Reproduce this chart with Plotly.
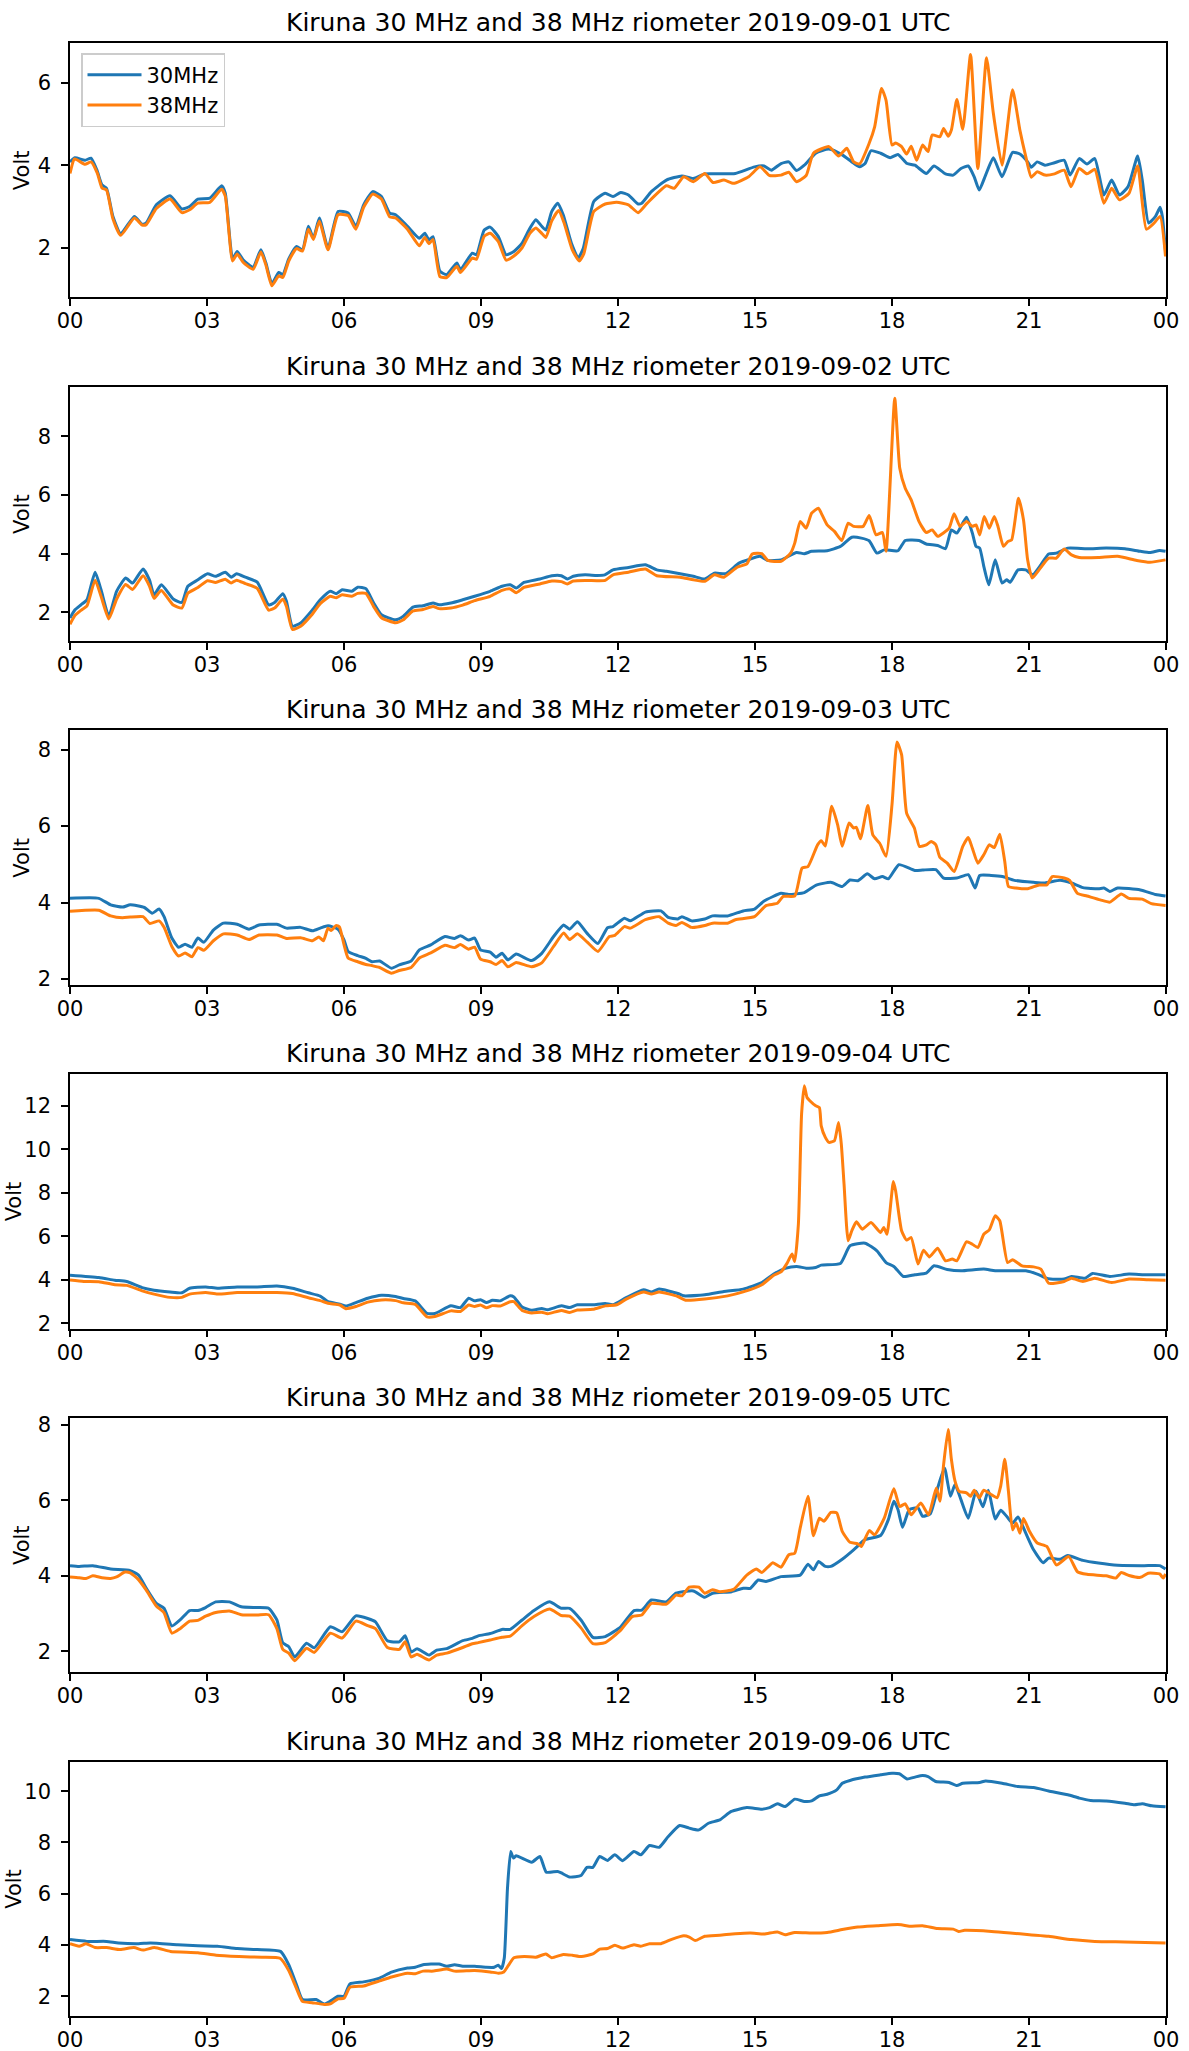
import plotly.graph_objects as go

# ---------------- data (hours UTC, Volt) ----------------
DATES = ["2019-09-01", "2019-09-02", "2019-09-03", "2019-09-04", "2019-09-05", "2019-09-06"]
HOUR_TICKS = [0, 3, 6, 9, 12, 15, 18, 21, 24]
HOUR_LABELS = ["00", "03", "06", "09", "12", "15", "18", "21", "00"]
SERIES_NAMES = ["30MHz", "38MHz"]
Y_LABEL = "Volt"

D1_30 = [(0,4.08),(0.11,4.18),(0.33,4.12),(0.46,4.17),(0.59,3.88),(0.7,3.52),(0.8,3.44),(0.94,2.76),(1.11,2.34),(1.41,2.76),(1.58,2.57),(1.67,2.6),(1.89,3.04),(2.19,3.26),(2.45,2.94),(2.62,3.0),(2.8,3.18),(3.06,3.2),(3.32,3.5),(3.4,3.32),(3.56,1.73),(3.66,1.91),(3.79,1.71),(4.01,1.53),(4.18,1.95),(4.29,1.63),(4.42,1.13),(4.57,1.4),(4.66,1.35),(4.79,1.73),(4.96,2.03),(5.09,1.95),(5.22,2.52),(5.33,2.23),(5.46,2.72),(5.65,1.99),(5.87,2.88),(6.09,2.84),(6.26,2.52),(6.43,3.04),(6.63,3.36),(6.82,3.24),(7.0,2.84),(7.13,2.8),(7.39,2.52),(7.65,2.23),(7.77,2.35),(7.86,2.19),(7.95,2.27),(8.1,1.43),(8.25,1.35),(8.47,1.63),(8.55,1.47),(8.81,1.87),(8.9,1.83),(9.07,2.43),(9.2,2.5),(9.38,2.27),(9.55,1.83),(9.72,1.91),(9.9,2.11),(10.07,2.47),(10.2,2.68),(10.33,2.52),(10.42,2.43),(10.55,2.88),(10.68,3.08),(10.8,2.8),(10.98,2.11),(11.13,1.75),(11.24,1.99),(11.47,3.12),(11.72,3.32),(11.89,3.24),(12.06,3.34),(12.23,3.28),(12.44,3.06),(12.52,3.08),(12.73,3.36),(13.06,3.64),(13.4,3.74),(13.65,3.68),(13.9,3.79),(14.23,3.79),(14.57,3.8),(14.99,3.96),(15.2,3.98),(15.36,3.88),(15.57,4.04),(15.74,4.08),(15.91,3.87),(16.08,4.0),(16.33,4.29),(16.62,4.39),(16.91,4.25),(17.12,4.08),(17.29,3.96),(17.41,4.04),(17.54,4.35),(17.75,4.29),(17.96,4.18),(18.13,4.26),(18.33,4.04),(18.5,4.0),(18.75,3.8),(18.92,3.98),(19.17,3.79),(19.34,3.76),(19.51,3.92),(19.67,3.98),(19.8,3.72),(19.91,3.4),(20.05,3.76),(20.22,4.18),(20.41,3.72),(20.64,4.31),(20.8,4.27),(20.97,4.08),(21.05,3.95),(21.18,4.08),(21.35,4.0),(21.56,4.06),(21.77,4.12),(21.9,3.76),(22.1,4.16),(22.27,4.03),(22.44,4.16),(22.64,3.28),(22.81,3.64),(22.98,3.28),(23.17,3.48),(23.38,4.22),(23.48,3.64),(23.62,2.6),(23.77,2.76),(23.87,2.98),(23.92,2.76),(23.99,1.91)]
D1_38 = [(0,3.8),(0.1,4.15),(0.33,4.02),(0.46,4.08),(0.6,3.8),(0.7,3.45),(0.8,3.4),(0.94,2.7),(1.11,2.3),(1.41,2.72),(1.58,2.55),(1.67,2.56),(1.89,2.95),(2.19,3.18),(2.45,2.85),(2.62,2.92),(2.8,3.08),(3.06,3.1),(3.32,3.42),(3.4,3.25),(3.56,1.68),(3.66,1.85),(3.79,1.65),(4.01,1.48),(4.18,1.9),(4.29,1.58),(4.42,1.08),(4.57,1.32),(4.66,1.28),(4.79,1.68),(4.96,1.98),(5.09,1.92),(5.22,2.45),(5.33,2.2),(5.46,2.65),(5.65,1.95),(5.87,2.8),(6.09,2.78),(6.26,2.45),(6.43,2.98),(6.63,3.3),(6.82,3.18),(7.0,2.75),(7.13,2.72),(7.39,2.45),(7.65,2.05),(7.77,2.25),(7.86,2.1),(7.95,2.2),(8.1,1.3),(8.25,1.28),(8.47,1.55),(8.55,1.4),(8.81,1.75),(8.9,1.72),(9.07,2.28),(9.2,2.35),(9.38,2.15),(9.55,1.7),(9.72,1.8),(9.9,2.0),(10.07,2.35),(10.2,2.48),(10.33,2.35),(10.42,2.25),(10.55,2.65),(10.7,2.9),(10.82,2.6),(11.0,1.95),(11.15,1.68),(11.25,1.85),(11.47,2.88),(11.72,3.06),(11.97,3.1),(12.23,3.04),(12.44,2.85),(12.64,3.08),(13.06,3.5),(13.23,3.44),(13.44,3.72),(13.65,3.6),(13.9,3.8),(14.08,3.58),(14.32,3.64),(14.53,3.56),(14.86,3.72),(15.11,3.96),(15.32,3.75),(15.57,3.76),(15.74,3.83),(15.91,3.6),(16.12,3.75),(16.28,4.29),(16.62,4.45),(16.83,4.22),(17.01,4.41),(17.16,4.08),(17.29,4.03),(17.5,4.53),(17.62,4.93),(17.77,5.86),(17.87,5.57),(18.0,4.49),(18.08,4.54),(18.21,4.45),(18.32,4.27),(18.42,4.46),(18.54,4.12),(18.67,4.49),(18.79,4.33),(18.88,4.73),(19.05,4.69),(19.13,4.89),(19.23,4.7),(19.3,4.85),(19.42,5.59),(19.55,4.87),(19.72,6.68),(19.88,3.92),(20.07,6.6),(20.22,5.25),(20.41,4.0),(20.64,5.83),(20.8,4.85),(20.93,4.21),(21.05,3.71),(21.18,3.84),(21.35,3.76),(21.56,3.79),(21.77,3.88),(21.92,3.48),(22.1,3.92),(22.27,3.79),(22.44,3.9),(22.64,3.08),(22.81,3.44),(22.98,3.16),(23.19,3.32),(23.38,3.98),(23.57,2.45),(23.74,2.6),(23.87,2.76),(23.99,1.79)]

D2_30 = [(0,1.81),(0.11,2.09),(0.24,2.26),(0.37,2.43),(0.55,3.37),(0.68,2.77),(0.85,1.87),(1.02,2.72),(1.22,3.17),(1.37,3.0),(1.6,3.48),(1.74,3.11),(1.84,2.6),(2.0,2.94),(2.26,2.46),(2.45,2.34),(2.58,2.89),(2.8,3.11),(3.01,3.32),(3.19,3.23),(3.4,3.37),(3.53,3.2),(3.65,3.32),(3.84,3.2),(4.1,3.03),(4.35,2.26),(4.48,2.34),(4.66,2.64),(4.74,2.38),(4.87,1.53),(5.05,1.64),(5.31,2.09),(5.48,2.43),(5.7,2.72),(5.83,2.64),(5.96,2.77),(6.17,2.72),(6.3,2.86),(6.48,2.81),(6.65,2.32),(6.82,1.92),(7.13,1.75),(7.3,1.87),(7.51,2.18),(7.73,2.23),(7.95,2.32),(8.08,2.26),(8.34,2.32),(8.6,2.43),(8.86,2.55),(9.2,2.72),(9.46,2.89),(9.64,2.94),(9.77,2.83),(9.94,3.02),(10.29,3.14),(10.55,3.25),(10.76,3.25),(10.89,3.14),(11.02,3.23),(11.28,3.28),(11.54,3.26),(11.71,3.28),(11.89,3.45),(12.23,3.53),(12.6,3.62),(12.85,3.45),(13.06,3.4),(13.36,3.32),(13.65,3.23),(13.9,3.14),(14.11,3.34),(14.36,3.32),(14.65,3.68),(14.9,3.82),(15.11,3.91),(15.28,3.77),(15.57,3.79),(15.91,4.04),(16.08,4.0),(16.24,4.08),(16.58,4.1),(16.87,4.25),(17.12,4.56),(17.33,4.53),(17.5,4.44),(17.67,4.02),(17.83,4.13),(18.13,4.1),(18.29,4.45),(18.59,4.45),(18.75,4.33),(19.0,4.28),(19.17,4.17),(19.3,4.81),(19.42,4.7),(19.63,5.24),(19.76,4.7),(19.84,4.25),(19.92,4.19),(20.01,3.57),(20.12,2.94),(20.26,3.79),(20.41,3.0),(20.51,3.11),(20.59,3.03),(20.76,3.45),(20.93,3.45),(21.08,3.28),(21.26,3.62),(21.43,3.99),(21.6,4.02),(21.85,4.19),(22.27,4.17),(22.69,4.19),(23.1,4.17),(23.44,4.08),(23.65,4.04),(23.86,4.11),(23.99,4.08)]
D2_38 = [(0,1.6),(0.11,1.9),(0.24,2.07),(0.37,2.22),(0.55,3.1),(0.68,2.55),(0.85,1.78),(1.02,2.45),(1.22,2.95),(1.37,2.78),(1.6,3.25),(1.74,2.9),(1.84,2.48),(2.0,2.75),(2.26,2.25),(2.45,2.15),(2.58,2.65),(2.8,2.85),(3.01,3.08),(3.19,3.02),(3.4,3.13),(3.53,3.0),(3.65,3.1),(3.84,2.98),(4.1,2.82),(4.35,2.08),(4.48,2.15),(4.66,2.45),(4.74,2.2),(4.87,1.42),(5.05,1.53),(5.31,1.95),(5.48,2.3),(5.7,2.55),(5.83,2.5),(5.96,2.6),(6.17,2.55),(6.3,2.65),(6.48,2.65),(6.65,2.2),(6.82,1.82),(7.13,1.65),(7.3,1.75),(7.51,2.05),(7.73,2.1),(7.95,2.2),(8.08,2.13),(8.34,2.15),(8.6,2.25),(8.86,2.4),(9.2,2.55),(9.46,2.75),(9.64,2.8),(9.77,2.67),(9.94,2.85),(10.29,2.97),(10.55,3.07),(10.76,3.05),(10.89,2.97),(11.02,3.07),(11.28,3.09),(11.54,3.08),(11.72,3.09),(11.89,3.28),(12.23,3.37),(12.6,3.48),(12.85,3.25),(13.36,3.2),(13.65,3.11),(13.9,3.06),(14.11,3.28),(14.32,3.2),(14.61,3.54),(14.82,3.65),(14.94,3.99),(15.15,4.0),(15.28,3.77),(15.57,3.74),(15.78,4.02),(15.87,4.36),(15.99,5.1),(16.12,4.87),(16.24,5.38),(16.39,5.55),(16.45,5.38),(16.58,4.98),(16.74,4.76),(16.9,4.45),(17.04,5.04),(17.16,4.93),(17.37,4.93),(17.5,5.3),(17.65,4.64),(17.79,4.72),(17.87,4.08),(18.06,9.29),(18.17,6.91),(18.29,6.23),(18.42,5.83),(18.59,5.1),(18.75,4.72),(18.88,4.81),(19.0,4.59),(19.25,4.87),(19.36,5.36),(19.49,4.93),(19.63,5.1),(19.76,4.93),(19.84,4.98),(19.92,4.64),(20.02,5.27),(20.13,4.87),(20.24,5.27),(20.32,4.93),(20.44,4.25),(20.54,4.42),(20.62,4.47),(20.77,5.89),(20.88,5.15),(20.97,3.79),(21.07,3.17),(21.22,3.45),(21.43,3.85),(21.6,3.85),(21.77,4.16),(21.93,3.96),(22.1,3.87),(22.52,3.87),(22.94,3.91),(23.36,3.77),(23.65,3.71),(23.99,3.79)]

D3_30 = [(0,4.11),(0.63,4.11),(0.89,3.94),(1.15,3.88),(1.32,3.94),(1.63,3.87),(1.8,3.72),(1.95,3.83),(2.06,3.63),(2.23,3.07),(2.38,2.83),(2.52,2.91),(2.67,2.83),(2.8,3.07),(2.93,2.96),(3.14,3.28),(3.36,3.46),(3.66,3.43),(3.92,3.3),(4.14,3.41),(4.53,3.43),(4.74,3.33),(5.05,3.35),(5.31,3.26),(5.48,3.33),(5.65,3.39),(5.87,3.3),(6.0,3.02),(6.09,2.72),(6.3,2.61),(6.48,2.54),(6.61,2.45),(6.78,2.47),(7.04,2.28),(7.21,2.37),(7.47,2.47),(7.65,2.76),(7.9,2.89),(8.21,3.11),(8.42,3.06),(8.55,3.13),(8.73,3.02),(8.86,3.07),(8.99,2.76),(9.2,2.7),(9.33,2.57),(9.46,2.67),(9.59,2.5),(9.77,2.65),(10.11,2.48),(10.33,2.67),(10.59,3.11),(10.81,3.41),(10.94,3.3),(11.11,3.5),(11.32,3.2),(11.56,2.93),(11.77,3.34),(11.89,3.37),(12.14,3.59),(12.27,3.52),(12.6,3.75),(12.94,3.78),(13.1,3.61),(13.31,3.57),(13.4,3.63),(13.61,3.52),(13.9,3.57),(14.07,3.65),(14.4,3.65),(14.74,3.78),(14.99,3.83),(15.2,4.04),(15.57,4.24),(15.74,4.21),(16.08,4.26),(16.33,4.45),(16.66,4.53),(16.91,4.42),(17.08,4.59),(17.25,4.57),(17.46,4.75),(17.62,4.62),(17.79,4.68),(17.92,4.62),(18.15,4.99),(18.5,4.84),(18.67,4.85),(18.96,4.86),(19.13,4.64),(19.42,4.64),(19.67,4.73),(19.82,4.38),(19.92,4.71),(20.17,4.71),(20.42,4.68),(20.68,4.58),(21.1,4.53),(21.35,4.51),(21.68,4.58),(21.93,4.51),(22.18,4.39),(22.52,4.36),(22.64,4.38),(22.77,4.29),(22.94,4.38),(23.44,4.33),(23.77,4.21),(23.99,4.17)]
D3_38 = [(0,3.77),(0.63,3.8),(0.89,3.65),(1.15,3.6),(1.32,3.62),(1.6,3.63),(1.75,3.45),(1.95,3.52),(2.06,3.35),(2.23,2.85),(2.38,2.6),(2.52,2.68),(2.67,2.58),(2.8,2.82),(2.93,2.75),(3.14,3.0),(3.36,3.18),(3.66,3.15),(3.92,3.03),(4.14,3.15),(4.53,3.15),(4.74,3.06),(5.05,3.08),(5.31,3.0),(5.45,3.1),(5.55,3.0),(5.65,3.33),(5.72,3.27),(5.83,3.4),(5.9,3.36),(6.0,2.9),(6.09,2.55),(6.3,2.45),(6.48,2.38),(6.61,2.35),(6.78,2.3),(7.04,2.15),(7.21,2.22),(7.47,2.3),(7.65,2.55),(7.9,2.68),(8.21,2.88),(8.42,2.82),(8.55,2.9),(8.73,2.78),(8.86,2.83),(8.99,2.52),(9.2,2.45),(9.33,2.38),(9.46,2.48),(9.59,2.32),(9.77,2.43),(10.11,2.32),(10.33,2.42),(10.59,2.85),(10.81,3.2),(10.94,3.03),(11.11,3.18),(11.32,2.97),(11.56,2.72),(11.81,3.11),(11.93,3.14),(12.14,3.37),(12.27,3.33),(12.6,3.55),(12.9,3.63),(13.1,3.46),(13.27,3.4),(13.4,3.48),(13.61,3.35),(13.9,3.4),(14.07,3.46),(14.4,3.46),(14.57,3.55),(14.99,3.63),(15.24,3.92),(15.49,3.98),(15.62,4.16),(15.87,4.17),(16.03,4.9),(16.16,4.94),(16.37,5.51),(16.45,5.62),(16.54,5.48),(16.68,6.52),(16.81,6.03),(16.91,5.47),(17.06,6.08),(17.16,5.95),(17.22,5.97),(17.31,5.67),(17.47,6.54),(17.58,5.77),(17.73,5.55),(17.87,5.21),(18.0,6.56),(18.11,8.2),(18.21,7.87),(18.32,6.34),(18.49,5.95),(18.6,5.47),(18.75,5.51),(18.86,5.6),(18.96,5.51),(19.05,5.18),(19.21,5.03),(19.36,4.81),(19.55,5.47),(19.67,5.7),(19.76,5.42),(19.88,5.03),(20.01,5.25),(20.13,5.51),(20.24,5.44),(20.36,5.79),(20.47,5.07),(20.55,4.42),(20.72,4.38),(20.97,4.36),(21.22,4.46),(21.39,4.46),(21.51,4.68),(21.77,4.64),(21.89,4.58),(22.06,4.24),(22.27,4.17),(22.56,4.07),(22.77,4.01),(23.02,4.22),(23.19,4.11),(23.48,4.09),(23.68,3.97),(23.99,3.92)]

D4_30 = [(0,4.22),(0.63,4.11),(0.98,3.99),(1.24,3.93),(1.58,3.65),(1.84,3.53),(2.19,3.45),(2.45,3.41),(2.62,3.62),(2.97,3.68),(3.23,3.62),(3.66,3.68),(4.1,3.68),(4.53,3.72),(4.87,3.62),(5.22,3.41),(5.48,3.26),(5.65,3.0),(5.91,2.89),(6.04,2.8),(6.26,2.96),(6.52,3.16),(6.82,3.3),(7.13,3.24),(7.3,3.15),(7.56,3.04),(7.82,2.46),(7.99,2.46),(8.34,2.81),(8.55,2.73),(8.73,3.16),(8.86,3.04),(8.99,3.09),(9.12,2.96),(9.25,3.07),(9.42,3.04),(9.64,3.27),(9.72,3.22),(9.9,2.76),(10.11,2.61),(10.33,2.69),(10.46,2.63),(10.76,2.81),(10.94,2.73),(11.11,2.86),(11.45,2.86),(11.72,2.92),(11.89,2.86),(12.18,3.19),(12.56,3.55),(12.73,3.45),(12.9,3.58),(13.31,3.38),(13.44,3.27),(13.9,3.32),(14.32,3.47),(14.74,3.58),(15.15,3.88),(15.41,4.27),(15.66,4.53),(15.91,4.62),(16.12,4.54),(16.33,4.57),(16.45,4.68),(16.87,4.76),(17.08,5.57),(17.41,5.69),(17.67,5.34),(17.87,4.8),(18.04,4.62),(18.25,4.16),(18.5,4.24),(18.75,4.31),(18.92,4.65),(19.21,4.48),(19.51,4.42),(20.01,4.5),(20.26,4.42),(20.93,4.42),(21.18,4.27),(21.35,4.11),(21.47,4.04),(21.77,4.04),(21.93,4.16),(22.23,4.08),(22.39,4.3),(22.77,4.16),(23.19,4.27),(23.52,4.24),(23.99,4.24)]
D4_38 = [(0,4.0),(0.3,3.93),(0.63,3.92),(0.98,3.78),(1.24,3.75),(1.58,3.5),(1.84,3.35),(2.19,3.2),(2.45,3.2),(2.62,3.35),(2.97,3.42),(3.23,3.35),(3.66,3.42),(4.1,3.42),(4.53,3.42),(4.87,3.38),(5.22,3.18),(5.48,3.05),(5.65,2.93),(5.91,2.85),(6.04,2.68),(6.26,2.78),(6.52,2.98),(6.82,3.08),(7.13,3.05),(7.3,2.95),(7.56,2.88),(7.82,2.3),(7.99,2.32),(8.34,2.58),(8.55,2.55),(8.73,2.85),(8.86,2.78),(8.99,2.85),(9.12,2.72),(9.25,2.82),(9.42,2.8),(9.64,3.0),(9.72,3.0),(9.9,2.6),(10.11,2.48),(10.33,2.52),(10.46,2.45),(10.76,2.6),(10.94,2.5),(11.11,2.62),(11.45,2.65),(11.72,2.81),(11.97,2.86),(12.18,3.12),(12.56,3.45),(12.73,3.35),(12.9,3.45),(13.31,3.24),(13.48,3.07),(13.9,3.12),(14.4,3.27),(14.74,3.45),(15.15,3.78),(15.41,4.22),(15.57,4.37),(15.7,4.76),(15.81,5.19),(15.87,4.85),(15.95,6.56),(16.02,11.62),(16.08,12.92),(16.14,12.38),(16.2,12.23),(16.33,12.0),(16.41,11.92),(16.45,11.08),(16.54,10.55),(16.62,10.32),(16.74,10.4),(16.83,11.23),(16.89,10.24),(16.95,8.4),(17.04,5.8),(17.12,6.26),(17.22,6.67),(17.35,6.33),(17.54,6.64),(17.75,6.18),(17.82,6.41),(17.89,6.1),(18.03,8.52),(18.08,8.09),(18.21,6.26),(18.32,5.83),(18.42,5.95),(18.57,4.73),(18.69,5.37),(18.82,5.06),(19.0,5.46),(19.17,4.88),(19.32,4.96),(19.42,4.88),(19.63,5.75),(19.76,5.64),(19.88,5.49),(20.01,6.1),(20.13,6.3),(20.26,6.95),(20.36,6.72),(20.53,4.8),(20.64,4.93),(20.85,4.65),(21.1,4.6),(21.26,4.5),(21.43,3.85),(21.77,3.93),(21.93,4.08),(22.18,3.93),(22.44,4.08),(22.81,3.88),(23.19,4.04),(23.61,4.01),(23.99,3.99)]

D5_30 = [(0,4.27),(0.2,4.25),(0.5,4.27),(0.89,4.18),(1.32,4.14),(1.5,4.02),(1.67,3.67),(1.89,3.27),(2.06,3.14),(2.23,2.67),(2.41,2.83),(2.62,3.08),(2.8,3.08),(2.97,3.16),(3.19,3.31),(3.49,3.31),(3.75,3.18),(4.1,3.16),(4.35,3.14),(4.53,2.83),(4.66,2.22),(4.79,2.12),(4.92,1.85),(5.18,2.21),(5.35,2.09),(5.7,2.65),(5.96,2.52),(6.26,2.94),(6.52,2.87),(6.69,2.78),(6.95,2.28),(7.21,2.25),(7.34,2.41),(7.47,1.98),(7.6,2.07),(7.86,1.9),(8.03,2.03),(8.25,2.07),(8.6,2.28),(8.81,2.34),(8.94,2.41),(9.2,2.47),(9.46,2.58),(9.64,2.58),(9.9,2.83),(10.16,3.08),(10.5,3.31),(10.76,3.14),(10.94,3.14),(11.19,2.83),(11.45,2.37),(11.72,2.39),(12.06,2.65),(12.35,3.08),(12.52,3.09),(12.73,3.36),(13.06,3.31),(13.27,3.54),(13.65,3.6),(13.9,3.43),(14.07,3.54),(14.49,3.58),(14.74,3.67),(14.9,3.67),(15.07,3.89),(15.24,3.85),(15.57,3.98),(15.99,4.02),(16.16,4.31),(16.28,4.16),(16.39,4.38),(16.54,4.25),(16.66,4.25),(16.91,4.44),(17.16,4.69),(17.41,4.96),(17.75,5.07),(17.92,5.49),(18.04,5.98),(18.13,5.76),(18.23,5.29),(18.38,5.76),(18.57,5.8),(18.67,5.58),(18.84,5.65),(19.0,6.33),(19.15,6.86),(19.28,6.11),(19.38,6.42),(19.51,6.02),(19.67,5.53),(19.84,6.24),(19.99,5.83),(20.11,6.27),(20.26,5.51),(20.38,5.74),(20.51,5.58),(20.64,5.4),(20.76,5.56),(20.93,5.13),(21.1,4.69),(21.31,4.35),(21.43,4.47),(21.68,4.44),(21.85,4.54),(22.18,4.41),(22.52,4.34),(22.94,4.28),(23.52,4.27),(23.86,4.27),(23.99,4.18)]
D5_38 = [(0,3.97),(0.2,3.95),(0.35,3.93),(0.5,4.0),(0.7,3.95),(0.89,3.93),(1.02,3.97),(1.2,4.1),(1.32,4.08),(1.5,3.9),(1.67,3.62),(1.89,3.2),(2.06,3.02),(2.23,2.48),(2.41,2.6),(2.62,2.8),(2.8,2.82),(2.97,2.93),(3.19,3.03),(3.49,3.07),(3.75,2.97),(4.1,2.96),(4.35,2.97),(4.53,2.6),(4.66,2.05),(4.79,1.95),(4.92,1.75),(5.18,2.08),(5.35,1.97),(5.7,2.48),(5.96,2.35),(6.26,2.8),(6.52,2.68),(6.69,2.6),(6.95,2.1),(7.21,2.05),(7.34,2.25),(7.47,1.85),(7.6,1.92),(7.86,1.77),(8.03,1.9),(8.25,1.95),(8.6,2.1),(8.81,2.2),(8.94,2.23),(9.2,2.3),(9.46,2.37),(9.64,2.4),(9.9,2.68),(10.16,2.92),(10.5,3.12),(10.76,2.95),(10.94,2.93),(11.19,2.62),(11.45,2.2),(11.72,2.23),(12.06,2.56),(12.31,2.92),(12.52,2.96),(12.73,3.27),(13.06,3.25),(13.27,3.49),(13.4,3.47),(13.56,3.7),(13.77,3.7),(13.9,3.54),(14.07,3.63),(14.23,3.58),(14.53,3.64),(14.82,4.02),(15.03,4.18),(15.15,4.09),(15.39,4.35),(15.57,4.23),(15.74,4.56),(15.87,4.6),(15.99,5.27),(16.16,6.11),(16.28,5.06),(16.41,5.53),(16.51,5.45),(16.66,5.68),(16.79,5.67),(16.91,5.18),(17.08,4.89),(17.25,4.85),(17.33,4.78),(17.5,5.2),(17.62,5.09),(17.83,5.53),(18.04,6.31),(18.17,5.84),(18.29,5.91),(18.42,5.62),(18.63,5.93),(18.8,5.62),(18.97,6.33),(19.05,5.98),(19.13,6.95),(19.23,7.88),(19.3,7.09),(19.38,6.51),(19.47,6.24),(19.63,6.2),(19.72,6.11),(19.8,6.27),(19.91,6.07),(20.01,6.27),(20.18,6.15),(20.3,6.07),(20.38,6.38),(20.47,7.09),(20.55,6.24),(20.64,5.22),(20.72,5.4),(20.8,5.13),(20.88,5.52),(21.01,5.18),(21.18,4.87),(21.39,4.78),(21.6,4.29),(21.87,4.51),(22.06,4.11),(22.27,4.04),(22.69,4.0),(22.9,3.94),(23.02,4.09),(23.19,4.01),(23.44,3.96),(23.61,4.07),(23.86,4.05),(23.94,3.94),(23.99,4.05)]

D6_30 = [(0,4.21),(0.37,4.14),(0.8,4.14),(1.06,4.08),(1.5,4.05),(1.76,4.08),(2.36,4.01),(2.8,3.97),(3.23,3.95),(3.66,3.86),(4.1,3.82),(4.61,3.75),(4.79,3.23),(4.96,2.45),(5.09,1.87),(5.39,1.87),(5.57,1.7),(5.7,1.81),(5.87,2.0),(6.0,2.0),(6.13,2.48),(6.43,2.56),(6.78,2.71),(7.04,2.94),(7.39,3.1),(7.56,3.13),(7.73,3.23),(8.08,3.26),(8.25,3.17),(8.42,3.23),(8.6,3.17),(8.86,3.17),(9.12,3.13),(9.29,3.13),(9.38,3.21),(9.45,3.08),(9.51,3.49),(9.58,6.22),(9.65,7.65),(9.71,7.39),(9.77,7.48),(10.11,7.23),(10.29,7.45),(10.43,6.84),(10.68,6.87),(10.76,6.81),(10.94,6.65),(11.19,6.71),(11.32,7.03),(11.45,7.03),(11.6,7.45),(11.77,7.3),(11.93,7.52),(12.1,7.29),(12.35,7.65),(12.5,7.52),(12.69,7.88),(12.9,7.81),(13.1,8.23),(13.35,8.66),(13.56,8.56),(13.77,8.49),(13.98,8.75),(14.23,8.88),(14.48,9.21),(14.82,9.36),(15.15,9.3),(15.32,9.36),(15.49,9.51),(15.66,9.4),(15.87,9.69),(16.08,9.6),(16.24,9.62),(16.41,9.82),(16.58,9.88),(16.79,10.05),(16.91,10.31),(17.08,10.42),(17.41,10.55),(17.75,10.64),(18.0,10.7),(18.16,10.68),(18.33,10.48),(18.5,10.55),(18.67,10.61),(18.79,10.57),(18.96,10.38),(19.25,10.34),(19.42,10.22),(19.55,10.31),(19.92,10.34),(20.05,10.4),(20.41,10.31),(20.76,10.18),(21.1,10.14),(21.43,10.01),(21.85,9.86),(22.1,9.73),(22.35,9.64),(22.69,9.62),(23.1,9.53),(23.31,9.47),(23.48,9.51),(23.69,9.43),(23.99,9.39)]
D6_38 = [(0,4.05),(0.2,3.95),(0.35,4.05),(0.55,3.9),(0.8,3.9),(1.1,3.82),(1.4,3.9),(1.6,3.8),(1.85,3.9),(2.2,3.75),(2.8,3.7),(3.2,3.6),(3.7,3.55),(4.2,3.52),(4.6,3.48),(4.79,3.0),(4.96,2.3),(5.09,1.8),(5.3,1.75),(5.57,1.68),(5.7,1.7),(5.87,1.9),(6.0,1.92),(6.13,2.35),(6.43,2.4),(6.78,2.6),(7.04,2.75),(7.39,2.9),(7.56,2.88),(7.73,2.98),(7.95,2.98),(8.25,3.06),(8.42,2.98),(8.86,3.0),(9.2,2.95),(9.38,2.9),(9.5,2.95),(9.6,3.2),(9.72,3.5),(9.95,3.55),(10.2,3.52),(10.42,3.65),(10.55,3.5),(10.8,3.63),(11.0,3.6),(11.2,3.55),(11.45,3.65),(11.6,3.84),(11.77,3.86),(11.93,3.99),(12.1,3.88),(12.35,4.01),(12.5,3.95),(12.69,4.05),(12.94,4.05),(13.19,4.23),(13.44,4.36),(13.56,4.31),(13.69,4.17),(13.9,4.34),(14.23,4.38),(14.57,4.44),(14.9,4.47),(15.2,4.43),(15.49,4.51),(15.66,4.4),(15.87,4.49),(16.24,4.47),(16.58,4.49),(16.91,4.6),(17.25,4.7),(17.67,4.75),(18.0,4.79),(18.2,4.79),(18.38,4.73),(18.67,4.75),(19.0,4.64),(19.34,4.62),(19.46,4.53),(19.59,4.57),(20.18,4.53),(20.59,4.47),(21.01,4.4),(21.43,4.34),(21.93,4.21),(22.44,4.14),(23.1,4.12),(23.99,4.08)]

PANELS = [(D1_30, D1_38), (D2_30, D2_38), (D3_30, D3_38),
          (D4_30, D4_38), (D5_30, D5_38), (D6_30, D6_38)]

# ---------------- styling / layout ----------------
W, H = 1189, 2051
M_L, M_R, M_T, M_B = 70, 23, 43, 35
PLOT_W = W - M_L - M_R
PLOT_H = H - M_T - M_B
PANEL_H = 254.3
PANEL_PITCH = (PLOT_H - PANEL_H) / 5.0
COLORS = ["#1f77b4", "#ff7f0e"]
FONT = "DejaVu Sans"
TICK_SIZE = 21
TITLE_SIZE = 25

fig = go.Figure()
layout = dict(
    template="none",
    width=W, height=H,
    margin=dict(l=M_L, r=M_R, t=M_T, b=M_B, pad=0, autoexpand=False),
    plot_bgcolor="white", paper_bgcolor="white",
    font=dict(family=FONT, size=TICK_SIZE, color="black"),
    showlegend=True,
    legend=dict(x=(81 - M_L) / PLOT_W, y=1 - (53 - M_T) / PLOT_H,
                xanchor="left", yanchor="top",
                bgcolor="rgba(255,255,255,0.8)", bordercolor="#cccccc", borderwidth=1.5,
                font=dict(family=FONT, size=TICK_SIZE), tracegroupgap=0, itemwidth=54),
)
annotations = []

for i, (s30, s38) in enumerate(PANELS):
    n = "" if i == 0 else str(i + 1)
    top_px = i * PANEL_PITCH
    bot_px = top_px + PANEL_H
    dom = [max(0.0, 1 - bot_px / PLOT_H), min(1.0, 1 - top_px / PLOT_H)]

    allv = [v for _, v in s30] + [v for _, v in s38]
    lo, hi = min(allv), max(allv)
    span = hi - lo
    yr = [lo - 0.05 * span, hi + 0.05 * span]

    for k, s in enumerate((s30, s38)):
        fig.add_trace(go.Scatter(
            x=[t for t, _ in s], y=[v for _, v in s],
            mode="lines", name=SERIES_NAMES[k],
            line=dict(color=COLORS[k], width=3, shape="spline", smoothing=0.5),
            xaxis="x" + n, yaxis="y" + n,
            showlegend=(i == 0), legendgroup=SERIES_NAMES[k],
        ))

    common = dict(showline=True, linecolor="black", linewidth=1.6, mirror=True,
                  ticks="outside", ticklen=7, tickwidth=1.6, tickcolor="black",
                  showgrid=False, zeroline=False, automargin=False,
                  tickfont=dict(family=FONT, size=TICK_SIZE, color="black"))
    layout["xaxis" + n] = dict(common, domain=[0, 1], anchor="y" + n,
                               range=[0, 24], tickmode="array",
                               tickvals=HOUR_TICKS, ticktext=HOUR_LABELS,
                               ticklabelstandoff=-3)
    layout["yaxis" + n] = dict(common, domain=dom, anchor="x" + n,
                               range=yr, tickmode="linear", tick0=0, dtick=2,
                               ticklabelstandoff=6)
    annotations.append(dict(
        text=f"Kiruna 30 MHz and 38 MHz riometer {DATES[i]} UTC",
        xref="paper", yref="paper", x=0.5, y=dom[1],
        xanchor="center", yanchor="bottom", yshift=4, showarrow=False,
        font=dict(family=FONT, size=TITLE_SIZE, color="black"),
    ))
    label_cx = 14 if yr[1] >= 10 else 22
    annotations.append(dict(
        text=Y_LABEL, textangle=-90,
        xref="paper", yref="paper", x=(label_cx - M_L) / PLOT_W, y=(dom[0] + dom[1]) / 2,
        xanchor="center", yanchor="middle", showarrow=False,
        font=dict(family=FONT, size=TICK_SIZE, color="black"),
    ))

layout["annotations"] = annotations
fig.update_layout(**layout)
# remove the browser's default 8px page margin so the figure fills the window exactly
fig.write_html("out.html",
               config={"displayModeBar": False},
               post_script="document.body.style.margin='0px';document.body.style.overflow='hidden';")
